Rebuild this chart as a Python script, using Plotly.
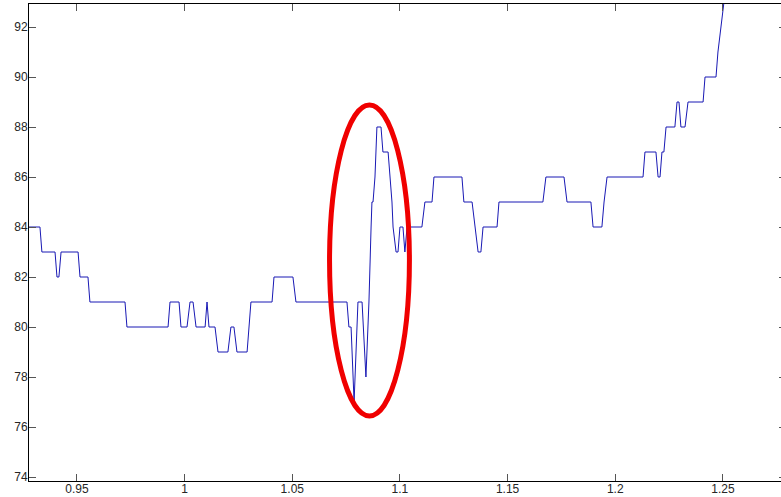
import plotly.graph_objects as go

# Breakpoints of the step-like signal (x, value)
x_vals = [
    0.9270, 0.9328, 0.9337, 0.9398, 0.9407, 0.9416, 0.9426, 0.9505, 0.9514, 0.9551,
    0.9560, 0.9723, 0.9732, 0.9923, 0.9932, 0.9974, 0.9983, 1.0011, 1.0025, 1.0039,
    1.0053, 1.0095, 1.0104, 1.0113, 1.0141, 1.0155, 1.0201, 1.0215, 1.0229, 1.0243,
    1.0290, 1.0308, 1.0406, 1.0415, 1.0503, 1.0517, 1.0754, 1.0763, 1.0773, 1.0787,
    1.0805, 1.0814, 1.0824, 1.0842, 1.0856, 1.0866, 1.0870, 1.0875, 1.0884, 1.0893,
    1.0912, 1.0921, 1.0945, 1.0954, 1.0963, 1.0968, 1.0982, 1.0991, 1.1000, 1.1014,
    1.1023, 1.1033, 1.1102, 1.1116, 1.1149, 1.1158, 1.1288, 1.1297, 1.1335, 1.1349,
    1.1363, 1.1376, 1.1386, 1.1451, 1.1460, 1.1664, 1.1678, 1.1762, 1.1776, 1.1887,
    1.1897, 1.1938, 1.1948, 1.1962, 1.2129, 1.2138, 1.2189, 1.2199, 1.2208, 1.2217,
    1.2226, 1.2236, 1.2277, 1.2287, 1.2296, 1.2305, 1.2324, 1.2338, 1.2408, 1.2417,
    1.2468, 1.2477, 1.2491, 1.2505, 1.2510,
]
y_vals = [
    84, 84, 83, 83, 82, 82, 83, 83, 82, 82,
    81, 81, 80, 80, 81, 81, 80, 80, 81, 81,
    80, 80, 81, 80, 80, 79, 79, 80, 80, 79,
    79, 81, 81, 82, 82, 81, 81, 80, 80, 77,
    81, 81, 81, 78, 81, 84, 85, 85, 86, 88,
    88, 87, 87, 86, 85, 84, 83, 83, 84, 84,
    83, 84, 84, 85, 85, 86, 86, 85, 85, 84,
    83, 83, 84, 84, 85, 85, 86, 86, 85, 85,
    84, 84, 85, 86, 86, 87, 87, 86, 86, 87,
    87, 88, 88, 89, 89, 88, 88, 89, 89, 90,
    90, 91, 92, 93, 94,
]

x_tick_vals = [0.95, 1.0, 1.05, 1.1, 1.15, 1.2, 1.25]
x_tick_text = ["0.95", "1", "1.05", "1.1", "1.15", "1.2", "1.25"]
y_tick_vals = [74, 76, 78, 80, 82, 84, 86, 88, 90, 92]
y_tick_text = ["74", "76", "78", "80", "82", "84", "86", "88", "90", "92"]

fig = go.Figure()
fig.add_trace(go.Scatter(
    x=x_vals, y=y_vals, mode="lines",
    line=dict(color="rgb(25,25,180)", width=1),
    showlegend=False, hoverinfo="skip",
))

# red ellipse highlighting the anomaly
fig.add_shape(type="circle", xref="x", yref="y",
              x0=1.0673, x1=1.1044, y0=76.44, y1=88.88,
              line=dict(color="rgb(240,0,0)", width=5))

axis_font = dict(family="Liberation Sans, Arial, sans-serif", size=12, color="#262626")
fig.update_layout(
    width=788, height=497,
    margin=dict(l=29, r=2, t=4, b=16),
    paper_bgcolor="white", plot_bgcolor="white",
    xaxis=dict(range=[0.92771, 1.27931], tickvals=x_tick_vals, ticktext=x_tick_text,
               ticks="inside", ticklen=7, tickcolor="#555", tickwidth=1,
               showline=True, linecolor="black", linewidth=1, mirror="ticks",
               showgrid=False, zeroline=False, tickfont=axis_font,
               automargin=False, ticklabelstandoff=-3),
    yaxis=dict(range=[73.84, 92.92], tickvals=y_tick_vals, ticktext=y_tick_text,
               ticks="inside", ticklen=7, tickcolor="#555", tickwidth=1,
               showline=True, linecolor="black", linewidth=1, mirror="ticks",
               showgrid=False, zeroline=False, tickfont=axis_font,
               automargin=False, ticklabelstandoff=-2),
)

fig.write_html("out.html", config={"displayModeBar": False},
               post_script="document.body.style.margin='0';document.body.style.overflow='hidden';")
